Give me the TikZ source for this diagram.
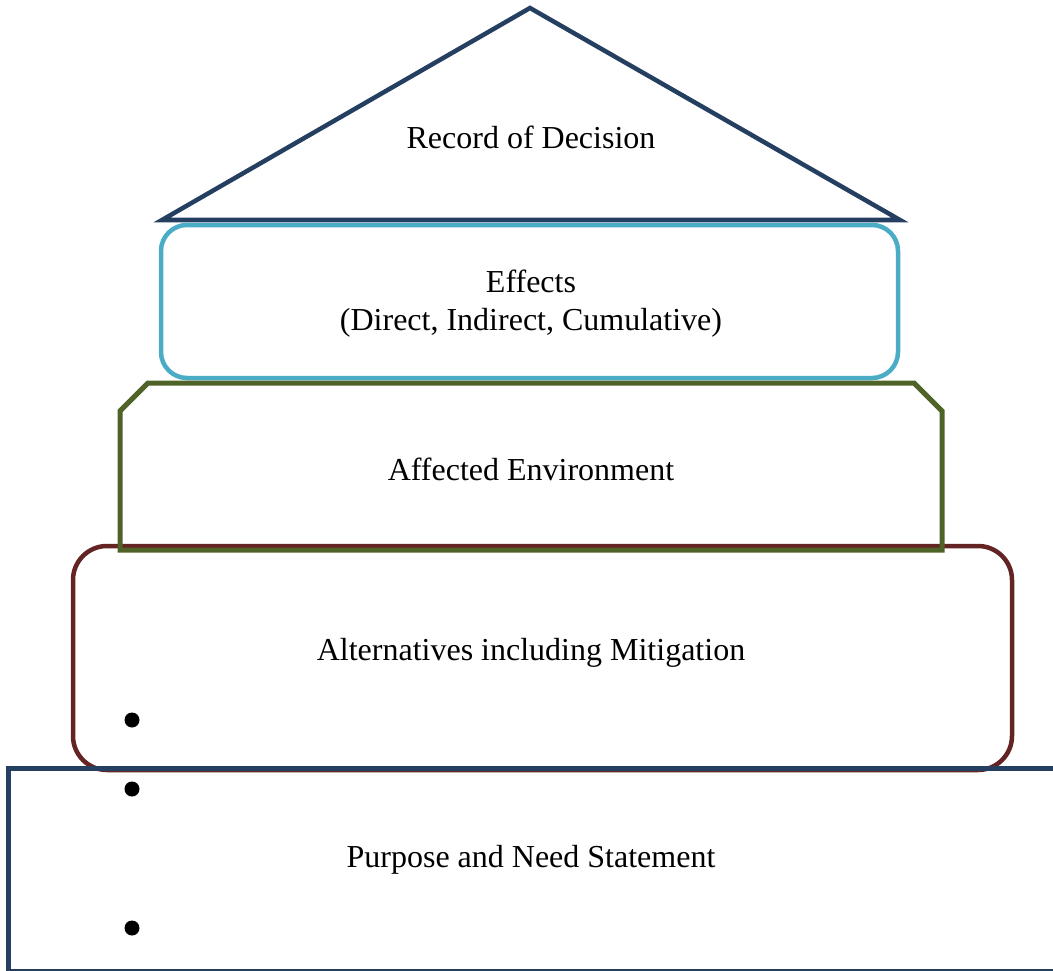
\documentclass[tikz,border=0pt]{standalone}
\usepackage{fontspec}
\setmainfont{Liberation Serif}
\definecolor{navy}{HTML}{243F60}
\definecolor{skyblue}{HTML}{4BACC6}
\definecolor{olive}{HTML}{4F6228}
\definecolor{maroon}{HTML}{632423}
\tikzset{
  label text/.style={font=\fontsize{32}{38}\selectfont, align=center, inner sep=0pt},
  tier/.style={line width=5pt, line join=miter},
  bulletdot/.style={circle, fill=black, inner sep=0pt, minimum size=15pt}
}
\begin{document}
\begin{tikzpicture}[x=1pt, y=-1pt]
\useasboundingbox (0,0) rectangle (1053,971);
\clip (0,0) rectangle (1053,971);

% roof: record of decision
\coordinate (apex) at (530,8);
\coordinate (roofL) at (162,220);
\coordinate (roofR) at (900,220);
\draw[tier, navy, line width=4.5pt] (roofL) -- (apex) -- (roofR) -- cycle;

% effects box
\node[draw=skyblue, line width=4.5pt, rounded corners=26pt, minimum width=737pt, minimum height=153pt, inner sep=0pt] (effbox) at (529.5,301.5) {};

% alternatives box
\node[draw=maroon, line width=4.5pt, rounded corners=34pt, minimum width=939pt, minimum height=224pt, inner sep=0pt] (altbox) at (542.5,658) {};

% affected environment: box with clipped top corners
\draw[tier, olive] (120,550) -- (120,411) -- (148,383) -- (914,383) -- (942,411) -- (942,550) -- cycle;

% purpose and need base
\draw[tier, navy] (1070,768) -- (8,768) -- (8,971) -- (1070,971);

% labels
\node[label text] (rod) at (531,137) {Record of Decision};
\node[label text] (eff) at (531,304) {Effects\\(Direct, Indirect, Cumulative)};
\node[label text] (env) at (531,469) {Affected Environment};
\node[label text] (alt) at (531,653) {Alternatives including Mitigation};
\node[label text] (pns) at (531,860) {Purpose and Need Statement};

% bullets
\node[bulletdot] (b1) at (132,720) {};
\node[bulletdot] (b2) at (132,789) {};
\node[bulletdot] (b3) at (132,928) {};
\end{tikzpicture}
\end{document}
